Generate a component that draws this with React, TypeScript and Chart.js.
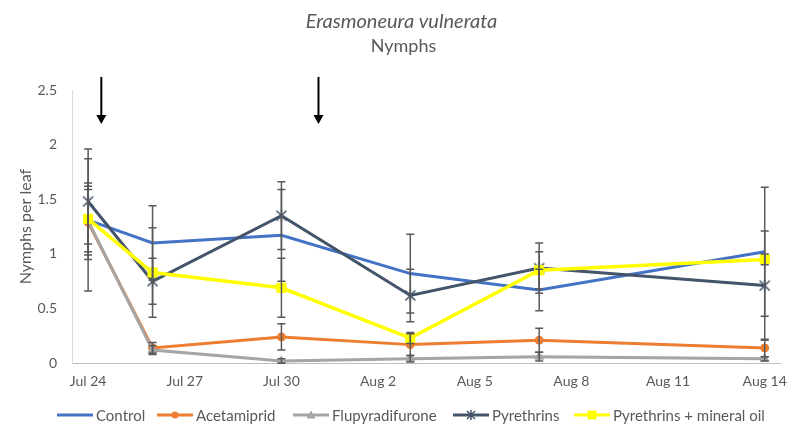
import React, { useEffect, useRef } from 'react';
import { Chart, registerables } from 'chart.js';

Chart.register(...registerables);

// ---- data ----
const sampleDays = [0, 2, 6, 10, 14, 21]; // days after Jul 24
const tickDays = [0, 3, 6, 9, 12, 15, 18, 21];
const tickLabels = ['Jul 24', 'Jul 27', 'Jul 30', 'Aug 2', 'Aug 5', 'Aug 8', 'Aug 11', 'Aug 14'];
const yTickValues = [0, 0.5, 1, 1.5, 2, 2.5];

const seriesNames = ['Control', 'Acetamiprid', 'Flupyradifurone', 'Pyrethrins', 'Pyrethrins + mineral oil'];
const control = [1.31, 1.10, 1.17, 0.82, 0.67, 1.02];
const acetamiprid = [1.29, 0.14, 0.24, 0.17, 0.21, 0.14];
const flupyradifurone = [1.30, 0.12, 0.02, 0.04, 0.06, 0.04];
const pyrethrins = [1.48, 0.75, 1.35, 0.62, 0.87, 0.71];
const pyrethrinsOil = [1.32, 0.83, 0.69, 0.23, 0.85, 0.95];

const controlErr = [0.65, 0.34, 0.42, 0.36, 0.19, 0.59];
const acetamipridErr = [0.30, 0.05, 0.12, 0.10, 0.11, 0.08];
const flupyradifuroneErr = [0.35, 0.04, 0.02, 0.03, 0.04, 0.02];
const pyrethrinsErr = [0.39, 0.21, 0.31, 0.24, 0.23, 0.50];
const pyrethrinsOilErr = [0.30, 0.41, 0.27, 0.05, 0.17, 0.05];

const arrowDays = [0.41, 7.15];
const arrowTop = 2.62;
const arrowTip = 2.19;

const titleText = 'Erasmoneura vulnerata';
const subtitleText = 'Nymphs';
const yAxisTitle = 'Nymphs per leaf';

// ---- styles ----
const FONT = 'Lato, "Open Sans", sans-serif';
const TEXT = '#595959';
const colors = ['#4472C4', '#ED7D31', '#A5A5A5', '#44546A', '#FFFF00'];
const values = [control, acetamiprid, flupyradifurone, pyrethrins, pyrethrinsOil];
const errors = [controlErr, acetamipridErr, flupyradifuroneErr, pyrethrinsErr, pyrethrinsOilErr];
const legendItemLeft = [57, 157, 293, 453, 574];

function starCanvas(size: number, color: string) {
  const c = document.createElement('canvas');
  c.width = size;
  c.height = size;
  const g = c.getContext('2d')!;
  g.strokeStyle = color;
  g.lineWidth = 1.5;
  const m = 1.5;
  g.beginPath();
  g.moveTo(m, m); g.lineTo(size - m, size - m);
  g.moveTo(size - m, m); g.lineTo(m, size - m);
  g.moveTo(size / 2, 0.5); g.lineTo(size / 2, size - 0.5);
  g.stroke();
  return c;
}

function drawMarker(ctx: CanvasRenderingContext2D, kind: number, x: number, y: number, color: string) {
  ctx.save();
  ctx.fillStyle = color;
  ctx.strokeStyle = color;
  if (kind === 1) {
    ctx.beginPath(); ctx.arc(x, y, 3.5, 0, Math.PI * 2); ctx.fill();
  } else if (kind === 2) {
    ctx.beginPath(); ctx.moveTo(x, y - 4.5); ctx.lineTo(x + 4.5, y + 3.5); ctx.lineTo(x - 4.5, y + 3.5); ctx.closePath(); ctx.fill();
  } else if (kind === 3) {
    ctx.lineWidth = 1.5;
    ctx.beginPath();
    ctx.moveTo(x - 4, y - 4); ctx.lineTo(x + 4, y + 4);
    ctx.moveTo(x + 4, y - 4); ctx.lineTo(x - 4, y + 4);
    ctx.moveTo(x, y - 5); ctx.lineTo(x, y + 5);
    ctx.stroke();
  } else if (kind === 4) {
    ctx.fillRect(x - 4.5, y - 4.5, 9, 9);
  }
  ctx.restore();
}

const overlayPlugin = {
  id: 'overlay',
  afterDatasetsDraw(chart: any) {
    const { ctx } = chart;
    const ys = chart.scales.y;
    ctx.save();
    ctx.strokeStyle = '#595959';
    ctx.lineWidth = 1.5;
    values.forEach((vals, i) => {
      const meta = chart.getDatasetMeta(i);
      vals.forEach((v, j) => {
        const e = errors[i][j];
        const x = meta.data[j].x;
        const y1 = ys.getPixelForValue(v + e);
        const y2 = ys.getPixelForValue(Math.max(0, v - e));
        ctx.beginPath();
        ctx.moveTo(x, y1); ctx.lineTo(x, y2);
        ctx.moveTo(x - 4, y1); ctx.lineTo(x + 4, y1);
        ctx.moveTo(x - 4, y2); ctx.lineTo(x + 4, y2);
        ctx.stroke();
      });
    });
    ctx.restore();
  },
  afterDraw(chart: any) {
    const { ctx, width } = chart;
    const xs = chart.scales.x;
    const ys = chart.scales.y;
    ctx.save();
    // title
    ctx.fillStyle = TEXT;
    ctx.textAlign = 'center';
    ctx.textBaseline = 'middle';
    ctx.font = `italic 20px ${FONT}`;
    ctx.fillText(titleText, width / 2 + 3, 22);
    ctx.font = `18px ${FONT}`;
    ctx.fillText(subtitleText, width / 2 + 5, 46);

    // arrows
    ctx.strokeStyle = '#000';
    ctx.fillStyle = '#000';
    ctx.lineWidth = 2;
    arrowDays.forEach((d) => {
      const x = xs.getPixelForValue(d);
      const yA = ys.getPixelForValue(arrowTop);
      const yB = ys.getPixelForValue(arrowTip);
      ctx.beginPath();
      ctx.moveTo(x, yA); ctx.lineTo(x, yB - 8);
      ctx.stroke();
      ctx.beginPath();
      ctx.moveTo(x - 5, yB - 9); ctx.lineTo(x + 5, yB - 9); ctx.lineTo(x, yB); ctx.closePath();
      ctx.fill();
    });

    // legend
    ctx.font = `15px ${FONT}`;
    ctx.textAlign = 'left';
    ctx.textBaseline = 'middle';
    const lineW = 36, gap = 3;
    const ly = 415;
    seriesNames.forEach((n, i) => {
      const x = legendItemLeft[i];
      ctx.strokeStyle = colors[i];
      ctx.lineWidth = 3;
      ctx.beginPath();
      ctx.moveTo(x, ly); ctx.lineTo(x + lineW, ly);
      ctx.stroke();
      drawMarker(ctx, i, x + lineW / 2, ly, colors[i]);
      ctx.fillStyle = TEXT;
      ctx.fillText(n, x + lineW + gap, ly + 1);
    });
    ctx.restore();
  },
};

export default function App() {
  const ref = useRef<HTMLCanvasElement>(null);
  useEffect(() => {
    document.body.style.margin = '0';
    const star = starCanvas(13, colors[3]);
    const pointStyles: any[] = [false, 'circle', 'triangle', star, 'rect'];
    const radii = [0, 4, 5, 6, 6.5];
    const chart = new Chart(ref.current!, {
      type: 'line',
      data: {
        datasets: seriesNames.map((name, i) => ({
          label: name,
          data: sampleDays.map((d, j) => ({ x: d, y: values[i][j] })),
          borderColor: colors[i],
          backgroundColor: colors[i],
          borderWidth: i === 4 ? 3.5 : 3,
          pointStyle: pointStyles[i],
          pointRadius: radii[i],
          pointBorderWidth: 1,
          pointBackgroundColor: colors[i],
          pointBorderColor: colors[i],
          tension: 0,
          order: 4 - i,
        })),
      },
      options: {
        responsive: false,
        animation: false,
        devicePixelRatio: 1,
        layout: { padding: { top: 90, left: 13, right: 5, bottom: 26 } },
        plugins: {
          legend: { display: false },
          title: { display: false },
          tooltip: { enabled: false },
        },
        scales: {
          x: {
            type: 'linear',
            min: -0.5,
            max: 21.5,
            grid: { display: false, drawTicks: false },
            border: { display: true, color: '#BFBFBF', width: 1 },
            afterBuildTicks: (scale: any) => {
              scale.ticks = tickDays.map((v) => ({ value: v }));
            },
            ticks: {
              autoSkip: false,
              maxRotation: 0,
              padding: 10,
              color: TEXT,
              font: { family: FONT, size: 14 },
              callback: (_v: any, idx: number) => tickLabels[idx],
            },
          },
          y: {
            min: 0,
            max: 2.5,
            afterBuildTicks: (scale: any) => {
              scale.ticks = yTickValues.map((v) => ({ value: v }));
            },
            afterFit: (scale: any) => {
              scale.width = 59;
            },
            grid: { display: false, drawTicks: false },
            border: { display: true, color: '#D9D9D9', width: 1 },
            title: {
              display: true,
              text: yAxisTitle,
              color: TEXT,
              font: { family: FONT, size: 16 },
              padding: { top: 3, bottom: 3 },
            },
            ticks: {
              padding: 15,
              color: TEXT,
              font: { family: FONT, size: 14 },
              callback: (v: any) => String(v),
            },
          },
        },
      },
      plugins: [overlayPlugin],
    });
    return () => chart.destroy();
  }, []);
  return (
    <div style={{ width: 797, height: 426 }}>
      <canvas ref={ref} width={797} height={426} />
    </div>
  );
}
